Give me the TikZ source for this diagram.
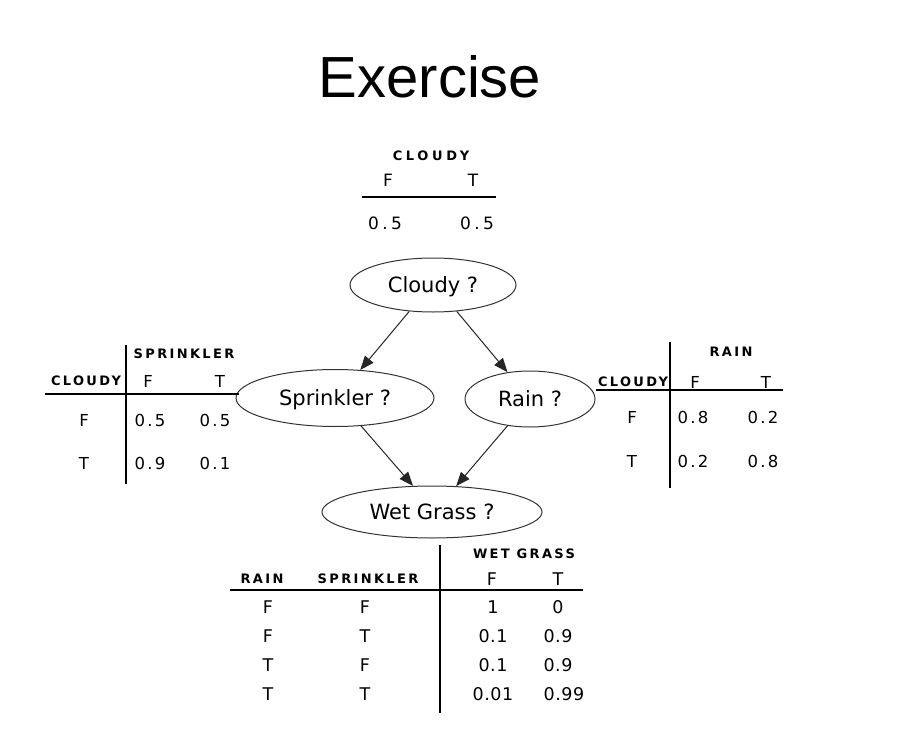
\documentclass[tikz,border=0pt]{standalone}
\usepackage{fontspec}
\setmainfont{DejaVu Sans}
\newfontfamily\titlefont{Liberation Sans}
\newfontfamily\numfont[LetterSpace=13]{DejaVu Sans}
\newfontfamily\numfontw[LetterSpace=20]{DejaVu Sans}
\newfontfamily\numfontn[LetterSpace=3]{DejaVu Sans}
\newfontfamily\hdrfont[LetterSpace=18]{DejaVu Sans}
\newfontfamily\hdrfontw[LetterSpace=28]{DejaVu Sans}
\usetikzlibrary{shapes.geometric,arrows.meta}
\tikzset{
  bn/.style={ellipse, draw=black!80, line width=1pt, inner sep=0pt, text height=15.3pt, text depth=0pt, font=\fontsize{21}{24}\selectfont},
  hd/.style={inner sep=0pt, font=\hdrfont\bfseries\fontsize{13}{15}\selectfont},
  hdw/.style={inner sep=0pt, font=\hdrfontw\bfseries\fontsize{13}{15}\selectfont},
  cell/.style={inner sep=0pt, font=\numfont\fontsize{16.5}{18}\selectfont},
  cellw/.style={inner sep=0pt, font=\numfontw\fontsize{17}{19}\selectfont},
  celln/.style={inner sep=0pt, font=\numfontn\fontsize{17.5}{19}\selectfont},
  tabrule/.style={line width=2.5pt, black},
  edge/.style={line width=1pt, black!85, -{Triangle[length=14pt,width=11pt]}},
}
\begin{document}
\begin{tikzpicture}[x=1pt,y=-1pt]
\fill[white] (0,0) rectangle (914,744);
\useasboundingbox (0,0) rectangle (914,744);

% title
\node[anchor=base, inner sep=0pt, font=\titlefont\fontsize{58}{64}\selectfont] (title) at (430,97) {Exercise};

% Cloudy table
\node[hdw] (ch) at (431,156) {CLOUDY};
\node[cellw] (cF) at (388,180) {F};
\node[cellw] (cTT) at (473,180) {T};
\draw[tabrule] (362,197) -- (496,197);
\node[cellw] (c1) at (385,223) {0.5};
\node[cellw] (c2) at (477,223) {0.5};

% network
\node[bn, minimum width=166pt, minimum height=54pt] (cloudy) at (433,285) {Cloudy ?};
\node[bn, minimum width=198pt, minimum height=57pt] (sprink) at (335,398) {Sprinkler ?};
\node[bn, minimum width=130pt, minimum height=56pt] (rain) at (530,399) {Rain ?};
\node[bn, minimum width=220pt, minimum height=52pt] (wet) at (432,512) {Wet Grass ?};
\draw[edge] (cloudy.228) -- (sprink.48);
\draw[edge] (cloudy.-48) -- (rain.130);
\draw[edge] (sprink.-47) -- (wet.126);
\draw[edge] (rain.230) -- (wet.47);

% Sprinkler table
\draw[tabrule] (126,345) -- (126,484);
\draw[tabrule] (45,394) -- (239,394);
\node[hd] (sh) at (184,354) {SPRINKLER};
\node[hd] (sc) at (86,381) {CLOUDY};
\node[cell] (sF) at (148,381) {F};
\node[cell] (sT) at (220,381) {T};
\node[cell] (s1) at (84,420) {F};
\node[cell] (s2) at (150,420) {0.5};
\node[cell] (s3) at (215,420) {0.5};
\node[cell] (s4) at (84,463) {T};
\node[cell] (s5) at (150,463) {0.9};
\node[cell] (s6) at (215,463) {0.1};

% Rain table
\draw[tabrule] (670,342) -- (670,488);
\draw[tabrule] (596,390) -- (783,390);
\node[hd] (rh) at (731,352) {RAIN};
\node[hd] (rc) at (633,382) {CLOUDY};
\node[cell] (rF) at (695,382) {F};
\node[cell] (rT) at (766,382) {T};
\node[cell] (r1) at (632,417) {F};
\node[cell] (r2) at (693,417) {0.8};
\node[cell] (r3) at (763,417) {0.2};
\node[cell] (r4) at (632,461) {T};
\node[cell] (r5) at (693,461) {0.2};
\node[cell] (r6) at (763,461) {0.8};

% Wet grass table
\draw[tabrule] (440,545) -- (440,713);
\draw[tabrule] (230,590) -- (583,590);
\node[hd] (wh) at (524,554) {WET GRASS};
\node[hd] (wr) at (262,579) {RAIN};
\node[hd] (ws) at (368,579) {SPRINKLER};
\node[celln] (wF) at (492,579) {F};
\node[celln] (wT) at (558,579) {T};
\node[celln] (w11) at (268,607) {F};
\node[celln] (w12) at (365,607) {F};
\node[celln] (w13) at (493,607) {1};
\node[celln] (w14) at (558,607) {0};
\node[celln] (w21) at (268,636) {F};
\node[celln] (w22) at (365,636) {T};
\node[celln] (w23) at (493,636) {0.1};
\node[celln] (w24) at (558,636) {0.9};
\node[celln] (w31) at (268,665) {T};
\node[celln] (w32) at (365,665) {F};
\node[celln] (w33) at (493,665) {0.1};
\node[celln] (w34) at (558,665) {0.9};
\node[celln] (w41) at (268,694) {T};
\node[celln] (w42) at (365,694) {T};
\node[celln] (w43) at (493,694) {0.01};
\node[celln] (w44) at (564,694) {0.99};
\end{tikzpicture}
\end{document}
